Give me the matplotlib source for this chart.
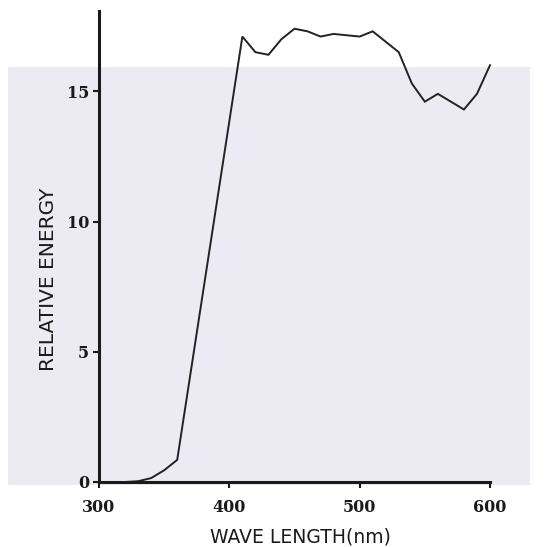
import matplotlib
matplotlib.use("Agg")
import matplotlib.pyplot as plt
from matplotlib.patches import Rectangle

# Spectral distribution: wavelength (nm) vs relative energy
wavelength = [320, 330, 340, 350, 360, 410, 420, 430, 440, 450, 460, 470,
              480, 490, 500, 510, 520, 530, 540, 550, 560, 570, 580, 590, 600]
energy = [0.0, 0.03, 0.15, 0.45, 0.85, 17.1, 16.5, 16.4, 17.0, 17.4, 17.3, 17.1,
          17.2, 17.15, 17.1, 17.3, 16.9, 16.5, 15.3, 14.6, 14.9, 14.6, 14.3, 14.9, 16.0]

x_ticks = [300, 400, 500, 600]
y_ticks = [0, 5, 10, 15]

W, H = 548, 547
fig = plt.figure(figsize=(W / 100, H / 100), dpi=100, facecolor="white")

# tinted paper band behind the plot
fig.patches.append(Rectangle((8 / W, 1 - 485 / H), (530 - 8) / W, (485 - 67) / H,
                             transform=fig.transFigure, facecolor="#ecebf4",
                             edgecolor="none", zorder=0))

ax = fig.add_axes([99 / W, 1 - 482 / H, (490 - 99) / W, (482 - 10.5) / H])
ax.set_zorder(2)
ax.set_facecolor("none")
ax.plot(wavelength, energy, color="#222222", lw=1.4, solid_joinstyle="miter",
        clip_on=False)

ax.set_xlim(300, 600)
ax.set_ylim(0, 18.1)
ax.set_xticks(x_ticks)
ax.set_yticks(y_ticks)

for s in ("top", "right"):
    ax.spines[s].set_visible(False)
for s in ("left", "bottom"):
    ax.spines[s].set_linewidth(2.2)
    ax.spines[s].set_color("#1a1a1a")

ax.tick_params(axis="both", direction="out", length=4, width=1.5, color="#1a1a1a",
               labelsize=11.5, labelcolor="#1a1a1a")
ax.tick_params(axis="x", pad=8)
ax.tick_params(axis="y", pad=3)
for lab in ax.get_xticklabels() + ax.get_yticklabels():
    lab.set_fontfamily("DejaVu Serif")
    lab.set_fontweight("bold")

ax.set_xlabel("WAVE LENGTH(nm)", fontsize=13.5, family="DejaVu Sans",
              color="#1a1a1a", va="center", ha="center")
ax.xaxis.set_label_coords(300 / W, 1 - 537 / H, transform=fig.transFigure)
ax.set_ylabel("RELATIVE ENERGY", fontsize=14.5, family="DejaVu Sans",
              color="#1a1a1a", va="center", ha="center")
ax.yaxis.set_label_coords(49 / W, 1 - 279 / H, transform=fig.transFigure)

fig.savefig("out.png", dpi=100, facecolor="white")
